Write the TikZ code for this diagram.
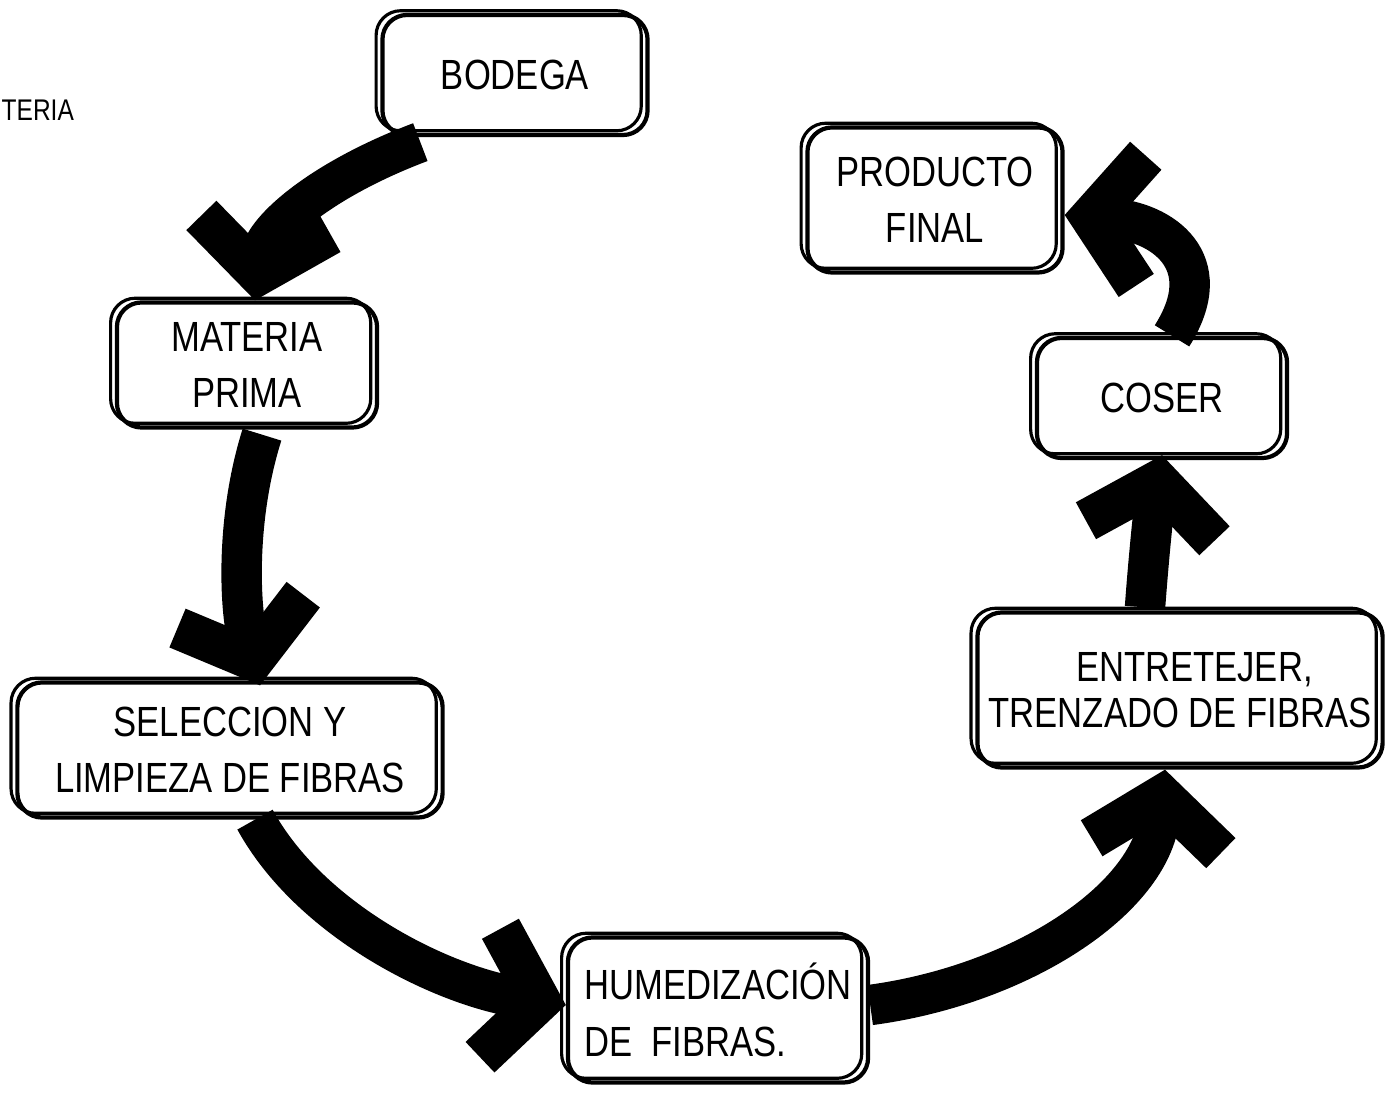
\documentclass[tikz,border=0pt]{standalone}
\usepackage{fontspec}
\setmainfont{Liberation Sans}[FakeStretch=0.82]
\usetikzlibrary{arrows.meta,calc}
\begin{document}
\begin{tikzpicture}[x=0.01cm,y=-0.01cm,
  box/.style={draw, line width=1.2pt, rounded corners=7pt, align=center,
    font=\fontsize{12}{16}\selectfont, inner sep=0pt,
    preaction={draw, line width=0.9pt, transform canvas={xshift=-1.8pt, yshift=1.2pt}}},
  flow/.style={line width=11.5pt, -{Straight Barb[length=0.5cm, width=1.3cm, line width=0.42cm]}}]
\useasboundingbox (0,0) rectangle (1385,1098);

\node[anchor=west, font=\fontsize{8.5}{10}\selectfont, inner sep=0pt] (partial) at (1,110) {TERIA};

\node[box, minimum width=2.65cm, minimum height=1.2cm] (bod) at (515,75) {BODEGA};
\node[box, minimum width=2.6cm, minimum height=1.25cm] (mat) at (247,365) {MATERIA\\PRIMA};
\node[box, minimum width=4.25cm, minimum height=1.35cm] (sel) at (230,750) {SELECCION Y\\LIMPIEZA DE FIBRAS};
\node[box, minimum width=3.0cm, minimum height=1.45cm, align=left] (hum) at (718,1010) {HUMEDIZACIÓN\\DE\ \ FIBRAS.};
\node[box, minimum width=4.05cm, minimum height=1.55cm, font=\fontsize{12}{13}\selectfont] (ent) at (1180,690) {\ \ \ ENTRETEJER,\\TRENZADO DE FIBRAS};
\node[box, minimum width=2.5cm, minimum height=1.2cm] (cos) at (1162,398) {COSER};
\node[box, minimum width=2.55cm, minimum height=1.45cm] (pro) at (935,200) {PRODUCTO\\FINAL};

\draw[flow] ($(bod.south west)+(40,5)$) .. controls (320,180) and (265,230) .. ($(mat.north)+(8,0)$);
\draw[flow] ($(mat.south)+(15,5)$) .. controls (235,520) and (240,610) .. ($(sel.north)+(30,5)$);
\draw[flow] ($(sel.south)+(25,0)$) .. controls (310,920) and (440,985) .. ($(hum.west)+(0,-5)$);
\draw[flow] ($(hum.east)+(0,-5)$) .. controls (1020,985) and (1150,900) .. ($(ent.south)+(-15,0)$);
\draw[flow] ($(ent.north)+(-35,-3)$) .. controls (1150,540) and (1155,500) .. ($(cos.south)+(0,-5)$);
\draw[flow] ($(cos.north)+(10,0)$) .. controls (1220,260) and (1160,222) .. ($(pro.east)+(0,15)$);
\end{tikzpicture}
\end{document}
